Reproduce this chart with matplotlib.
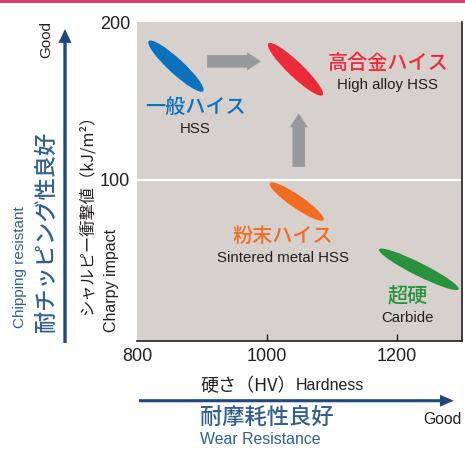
import matplotlib
matplotlib.use("Agg")
import matplotlib.pyplot as plt
from matplotlib.patches import Ellipse, FancyArrowPatch, Rectangle
from matplotlib.transforms import ScaledTranslation

JP = ["Noto Sans CJK JP", "DejaVu Sans"]
LAT = "Liberation Sans"

# data: tool materials, hardness (HV) vs charpy impact (kJ/m2)
materials_jp = ["一般ハイス", "高合金ハイス", "粉末ハイス", "超硬"]
materials_en = ["HSS", "High alloy HSS", "Sintered metal HSS", "Carbide"]
hardness = [860, 1044, 1046, 1234]
impact = [172, 170, 86, 43]
colors = ["#0a71bd", "#ec2a3a", "#f26c23", "#2a913d"]

# label anchors (name / english name)
label_x = [890, 1186, 1025, 1217]
label_y_jp = [146, 174, 64, 26]
label_y_en = [132, 160, 50, 12]

# arrows showing the improvement path
arrow_from = [(908, 175), (1049, 108)]
arrow_to = [(991, 175), (1049, 142)]

xticks = [800, 1000, 1200]
yticks = [100, 200]

# ellipse size (inches) and angle (deg)
ell_len = [0.74, 0.75, 0.65, 0.89]
ell_wid = [0.15, 0.15, 0.13, 0.13]
ell_ang = [-42.6, -43.6, -34.5, -26.6]

fig = plt.figure(figsize=(4.65, 4.51), dpi=100)
ax = fig.add_axes([0.2946, 0.2439, 0.6983, 0.7073])
ax.set_facecolor("#d7d1ce")
ax.set_xlim(800, 1300)
ax.set_ylim(-2.5, 200)

for s in ["left", "top"]:
    ax.spines[s].set_visible(False)
for s in ["bottom", "right"]:
    ax.spines[s].set_color("#231f20")
    ax.spines[s].set_linewidth(1.2)

ax.set_xticks(xticks)
ax.set_xticklabels([str(v) for v in xticks], fontsize=13, family=LAT, color="#231f20")
ax.tick_params(axis="x", direction="in", length=5, width=1, color="#231f20", pad=5)
ax.xaxis.get_major_ticks()[0].tick1line.set_visible(False)
ax.set_yticks(yticks)
ax.set_yticklabels([str(v) for v in yticks], fontsize=13, family=LAT, color="#231f20")
ax.tick_params(axis="y", length=0, pad=5)
ax.axhline(100, color="white", lw=1.6, zorder=1)

for i in range(len(hardness)):
    tr = fig.dpi_scale_trans + ScaledTranslation(hardness[i], impact[i], ax.transData)
    ax.add_patch(Ellipse((0, 0), ell_len[i], ell_wid[i], angle=ell_ang[i],
                         transform=tr, facecolor=colors[i], edgecolor="none", zorder=3))
    ax.text(label_x[i], label_y_jp[i], materials_jp[i], color=colors[i], fontsize=14.5,
            family=JP, weight="medium", ha="center", va="center", zorder=4)
    ax.text(label_x[i], label_y_en[i], materials_en[i], color="#231f20", fontsize=10.8,
            family=LAT, ha="center", va="center", zorder=4)

for a, b in zip(arrow_from, arrow_to):
    ax.add_patch(FancyArrowPatch(a, b, arrowstyle="simple,head_width=13,head_length=10,tail_width=9",
                                 mutation_scale=1, color="#98999c", lw=0, shrinkA=0, shrinkB=0, zorder=3))

# top band
fig.add_artist(Rectangle((0, 0.993), 1, 0.007, transform=fig.transFigure,
                         facecolor="#de4262", edgecolor="none"))

navy = "#1f497d"
blue_txt = "#2f5f95"
# vertical (toughness) arrow
fig.add_artist(FancyArrowPatch((0.1398, 0.2395), (0.1398, 0.9357), transform=fig.transFigure,
                               arrowstyle="simple,head_width=9.4,head_length=10,tail_width=2.4",
                               mutation_scale=1, color=navy, lw=0, shrinkA=0, shrinkB=0))
# horizontal (wear) arrow
fig.add_artist(FancyArrowPatch((0.299, 0.1115), (0.976, 0.1115), transform=fig.transFigure,
                               arrowstyle="simple,head_width=8.6,head_length=10,tail_width=2.2",
                               mutation_scale=1, color=navy, lw=0, shrinkA=0, shrinkB=0))

fig.text(46.7 / 465, 1 - 40 / 451, "Good", rotation=90, fontsize=11, family=LAT,
         color="#231f20", ha="center", va="center")
fig.text(46.7 / 465, 1 - 231.5 / 451, "耐チッピング性良好", rotation=90, fontsize=16,
         family=JP, weight="medium", color=blue_txt, ha="center", va="center")
fig.text(20 / 465, 1 - 267 / 451, "Chipping resistant", rotation=90, fontsize=11,
         family=LAT, color=blue_txt, ha="center", va="center")
fig.text(87 / 465, 1 - 211 / 451, "シャルピー衝撃値（kJ/m²）", rotation=90, fontsize=11.7,
         family=JP, color="#231f20", ha="center", va="center")
fig.text(111 / 465, 1 - 280 / 451, "Charpy impact", rotation=90, fontsize=11.5,
         family=LAT, color="#231f20", ha="center", va="center")

fig.text(200 / 465, 1 - 386 / 451, "硬さ（HV）", fontsize=13, family=JP,
         color="#231f20", ha="left", va="center")
fig.text(296 / 465, 1 - 386 / 451, "Hardness", fontsize=11.5, family=LAT,
         color="#231f20", ha="left", va="center")
fig.text(200 / 465, 1 - 417.3 / 451, "耐摩耗性良好", fontsize=16, family=JP, weight="medium",
         color=blue_txt, ha="left", va="center")
fig.text(200 / 465, 1 - 439.3 / 451, "Wear Resistance", fontsize=11.4, family=LAT,
         color=blue_txt, ha="left", va="center")
fig.text(461.7 / 465, 1 - 419.3 / 451, "Good", fontsize=11.3, family=LAT,
         color="#231f20", ha="right", va="center")

fig.savefig("out.png", dpi=100)
